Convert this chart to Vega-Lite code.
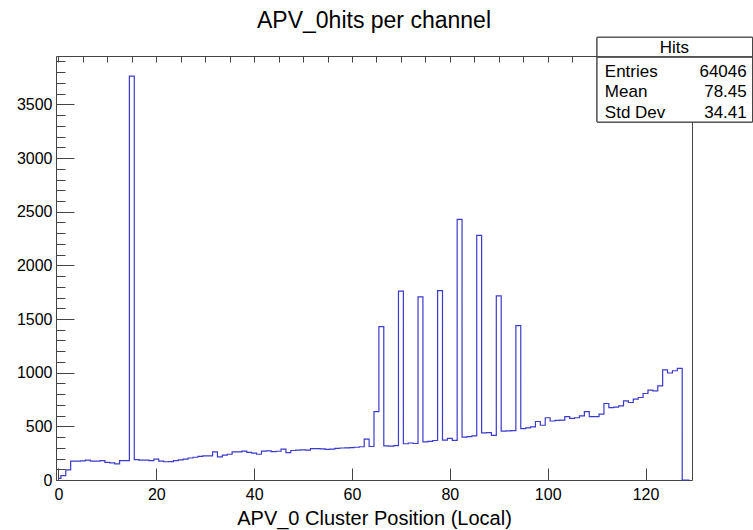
{
  "$schema": "https://vega.github.io/schema/vega-lite/v6.json",
  "width": 636,
  "height": 424,
  "autosize": {"type": "none"},
  "padding": {"left": 56, "top": 56, "right": 61, "bottom": 50},
  "background": "white",
  "title": {"text": "APV_0hits per channel", "fontSize": 23, "fontWeight": "normal", "font": "Liberation Sans", "color": "black", "anchor": "middle", "offset": 4},
  "datasets": {
    "hist": [
      {"channel": 0, "hits": 15}, {"channel": 1, "hits": 40}, {"channel": 2, "hits": 95}, {"channel": 3, "hits": 175},
      {"channel": 4, "hits": 175}, {"channel": 5, "hits": 178}, {"channel": 6, "hits": 185}, {"channel": 7, "hits": 175},
      {"channel": 8, "hits": 175}, {"channel": 9, "hits": 180}, {"channel": 10, "hits": 165}, {"channel": 11, "hits": 160},
      {"channel": 12, "hits": 150}, {"channel": 13, "hits": 180}, {"channel": 14, "hits": 180}, {"channel": 15, "hits": 3763},
      {"channel": 16, "hits": 190}, {"channel": 17, "hits": 185}, {"channel": 18, "hits": 185}, {"channel": 19, "hits": 180},
      {"channel": 20, "hits": 195}, {"channel": 21, "hits": 175}, {"channel": 22, "hits": 170}, {"channel": 23, "hits": 172},
      {"channel": 24, "hits": 180}, {"channel": 25, "hits": 188}, {"channel": 26, "hits": 195}, {"channel": 27, "hits": 205},
      {"channel": 28, "hits": 212}, {"channel": 29, "hits": 220}, {"channel": 30, "hits": 225}, {"channel": 31, "hits": 225},
      {"channel": 32, "hits": 262}, {"channel": 33, "hits": 215}, {"channel": 34, "hits": 232}, {"channel": 35, "hits": 240},
      {"channel": 36, "hits": 262}, {"channel": 37, "hits": 262}, {"channel": 38, "hits": 270}, {"channel": 39, "hits": 258},
      {"channel": 40, "hits": 250}, {"channel": 41, "hits": 240}, {"channel": 42, "hits": 270}, {"channel": 43, "hits": 272},
      {"channel": 44, "hits": 265}, {"channel": 45, "hits": 268}, {"channel": 46, "hits": 288}, {"channel": 47, "hits": 255},
      {"channel": 48, "hits": 275}, {"channel": 49, "hits": 278}, {"channel": 50, "hits": 280}, {"channel": 51, "hits": 278},
      {"channel": 52, "hits": 292}, {"channel": 53, "hits": 292}, {"channel": 54, "hits": 290}, {"channel": 55, "hits": 285},
      {"channel": 56, "hits": 288}, {"channel": 57, "hits": 295}, {"channel": 58, "hits": 298}, {"channel": 59, "hits": 300},
      {"channel": 60, "hits": 302}, {"channel": 61, "hits": 305}, {"channel": 62, "hits": 310}, {"channel": 63, "hits": 380},
      {"channel": 64, "hits": 312}, {"channel": 65, "hits": 638}, {"channel": 66, "hits": 1429}, {"channel": 67, "hits": 318},
      {"channel": 68, "hits": 315}, {"channel": 69, "hits": 320}, {"channel": 70, "hits": 1760}, {"channel": 71, "hits": 338},
      {"channel": 72, "hits": 345}, {"channel": 73, "hits": 340}, {"channel": 74, "hits": 1706}, {"channel": 75, "hits": 355},
      {"channel": 76, "hits": 360}, {"channel": 77, "hits": 368}, {"channel": 78, "hits": 1765}, {"channel": 79, "hits": 372},
      {"channel": 80, "hits": 388}, {"channel": 81, "hits": 370}, {"channel": 82, "hits": 2429}, {"channel": 83, "hits": 400},
      {"channel": 84, "hits": 405}, {"channel": 85, "hits": 412}, {"channel": 86, "hits": 2279}, {"channel": 87, "hits": 440},
      {"channel": 88, "hits": 442}, {"channel": 89, "hits": 415}, {"channel": 90, "hits": 1716}, {"channel": 91, "hits": 455},
      {"channel": 92, "hits": 458}, {"channel": 93, "hits": 460}, {"channel": 94, "hits": 1438}, {"channel": 95, "hits": 478},
      {"channel": 96, "hits": 485}, {"channel": 97, "hits": 495}, {"channel": 98, "hits": 545}, {"channel": 99, "hits": 510},
      {"channel": 100, "hits": 580}, {"channel": 101, "hits": 550}, {"channel": 102, "hits": 555}, {"channel": 103, "hits": 558},
      {"channel": 104, "hits": 590}, {"channel": 105, "hits": 575}, {"channel": 106, "hits": 580}, {"channel": 107, "hits": 598},
      {"channel": 108, "hits": 638}, {"channel": 109, "hits": 591}, {"channel": 110, "hits": 591}, {"channel": 111, "hits": 613},
      {"channel": 112, "hits": 713}, {"channel": 113, "hits": 675}, {"channel": 114, "hits": 680}, {"channel": 115, "hits": 691},
      {"channel": 116, "hits": 738}, {"channel": 117, "hits": 722}, {"channel": 118, "hits": 754}, {"channel": 119, "hits": 769},
      {"channel": 120, "hits": 806}, {"channel": 121, "hits": 838}, {"channel": 122, "hits": 831}, {"channel": 123, "hits": 878},
      {"channel": 124, "hits": 1027}, {"channel": 125, "hits": 997}, {"channel": 126, "hits": 1018}, {"channel": 127, "hits": 1040},
      {"channel": 128, "hits": 0}, {"channel": 129, "hits": 0}
    ],
    "stats": [
      {"stat": "Entries", "value": "64046"},
      {"stat": "Mean", "value": "78.45"},
      {"stat": "Std Dev", "value": "34.41"}
    ]
  },
  "layer": [
    {
      "data": {"name": "hist"},
      "mark": {"type": "line", "interpolate": "step", "color": "#3b3bcc", "strokeWidth": 1.2},
      "encoding": {
        "x": {"field": "channel", "type": "quantitative", "scale": {"domain": [-0.5, 129.5], "nice": false, "zero": false},
              "axis": {"values": [0, 20, 40, 60, 80, 100, 120], "tickSize": -12, "labelPadding": 18, "title": "APV_0 Cluster Position (Local)", "titleFontSize": 20, "titlePadding": 6}},
        "y": {"field": "hits", "type": "quantitative", "scale": {"domain": [0, 3951], "nice": false},
              "axis": {"values": [0, 500, 1000, 1500, 2000, 2500, 3000, 3500], "format": "d", "tickSize": -18, "labelPadding": 22, "title": null}}
      }
    },
    {
      "data": {"name": "hist"},
      "mark": {"type": "line", "interpolate": "step", "strokeOpacity": 0},
      "encoding": {
        "x": {"field": "channel", "type": "quantitative",
              "axis": {"values": [0,5,10,15,20,25,30,35,40,45,50,55,60,65,70,75,80,85,90,95,100,105,110,115,120,125], "tickSize": -6, "labels": false, "title": null}},
        "y": {"field": "hits", "type": "quantitative",
              "axis": {"orient": "left", "values": [0,100,200,300,400,500,600,700,800,900,1000,1100,1200,1300,1400,1500,1600,1700,1800,1900,2000,2100,2200,2300,2400,2500,2600,2700,2800,2900,3000,3100,3200,3300,3400,3500,3600,3700,3800,3900], "tickSize": -9, "labels": false, "title": null}}
      }
    },
    {
      "data": {"name": "stats"},
      "mark": {"type": "rect", "fill": "white", "stroke": "#444", "strokeWidth": 1},
      "encoding": {
        "x": {"datum": 110.1, "axis": null}, "x2": {"datum": 141.87},
        "y": {"datum": 4125, "axis": null}, "y2": {"datum": 3336}
      }
    },
    {
      "data": {"name": "stats"},
      "mark": {"type": "rule", "stroke": "#444", "strokeWidth": 1},
      "encoding": {
        "x": {"datum": 110.1, "axis": null}, "x2": {"datum": 141.87},
        "y": {"datum": 3942, "axis": null}
      }
    },
    {
      "data": {"values": [{"name": "Hits"}]},
      "mark": {"type": "text", "align": "center", "baseline": "middle", "fontSize": 17, "font": "Liberation Sans", "color": "black"},
      "encoding": {
        "x": {"datum": 125.9, "axis": null},
        "y": {"datum": 4023, "axis": null},
        "text": {"field": "name"}
      }
    },
    {
      "data": {"name": "stats"},
      "mark": {"type": "text", "align": "left", "baseline": "middle", "fontSize": 17, "font": "Liberation Sans", "color": "black"},
      "encoding": {
        "x": {"datum": 111.68, "axis": null},
        "y": {"datum": 3805, "axis": null},
        "yOffset": {"field": "stat", "type": "nominal", "scale": {"type": "point", "domain": ["Entries", "Mean", "Std Dev"], "range": [0, 41.6], "padding": 0}},
        "text": {"field": "stat"}
      }
    },
    {
      "data": {"name": "stats"},
      "mark": {"type": "text", "align": "right", "baseline": "middle", "fontSize": 17, "font": "Liberation Sans", "color": "black"},
      "encoding": {
        "x": {"datum": 140.69, "axis": null},
        "y": {"datum": 3805, "axis": null},
        "yOffset": {"field": "stat", "type": "nominal", "scale": {"type": "point", "domain": ["Entries", "Mean", "Std Dev"], "range": [0, 41.6], "padding": 0}},
        "text": {"field": "value"}
      }
    }
  ],
  "resolve": {"axis": {"x": "independent", "y": "independent"}},
  "config": {
    "view": {"stroke": "#444", "strokeWidth": 1},
    "font": "Liberation Sans",
    "axis": {"domain": false, "grid": false, "labelFont": "Liberation Sans", "labelFontSize": 16, "labelColor": "black", "tickColor": "#444", "tickWidth": 1, "titleFont": "Liberation Sans", "titleFontWeight": "normal", "titleColor": "black", "labelFlush": false, "labelOverlap": false}
  }
}
